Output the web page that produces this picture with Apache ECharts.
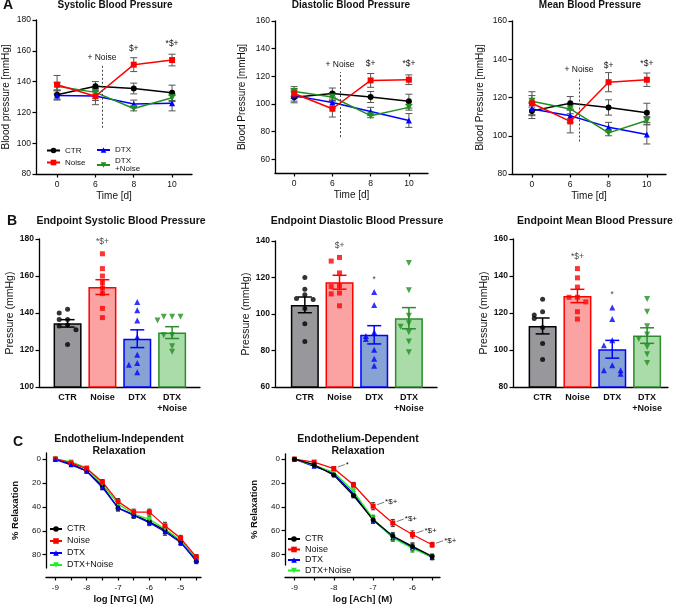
<!DOCTYPE html>
<html>
<head>
<meta charset="utf-8">
<script src="https://cdn.jsdelivr.net/npm/echarts@6/dist/echarts.min.js"></script>
<style>
  html, body { margin: 0; padding: 0; background: #fff; }
  #main { width: 676px; height: 605px; }
</style>
</head>
<body>
<div id="main"></div>
<script>
// ---------- data ----------
const days = ['0', '6', '8', '10'];
const groups = ['CTR', 'Noise', 'DTX', 'DTX+Noise'];
const barLabels = ['CTR', 'Noise', 'DTX', 'DTX\n+Noise'];

// A – blood pressure time course (mean, SEM)
const sysCTR = [131.5, 137, 135.5, 132.7];
const sysNoise = [138, 130.5, 151, 154];
const sysDTX = [131, 130.7, 125.5, 126];
const sysDTXNoise = [137, 133, 122.5, 129.5];
const sysErr = [[3, 3, 3.5, 5], [6, 5.5, 4.5, 3.8], [3, 3, 2.5, 5], [2.5, 2.5, 1.5, 2.5]];

const diaCTR = [104.8, 107.5, 105, 102];
const diaNoise = [107.5, 96.5, 117, 117.5];
const diaDTX = [106, 101, 94.5, 88];
const diaDTXNoise = [109, 105, 91.5, 97.5];
const diaErr = [[4, 4, 4, 5], [3.5, 6, 5, 3.5], [4, 4, 3, 5], [3.5, 3, 1.5, 2]];

const meanCTR = [113, 117, 114.8, 112];
const meanNoise = [117, 107.5, 128, 129.3];
const meanDTX = [114, 110.5, 104.5, 100.7];
const meanDTXNoise = [118, 114, 101.5, 108];
const meanErr = [[4, 3.5, 4, 5], [6, 6, 5, 3.5], [3.5, 3.5, 2.5, 5], [3, 2.5, 1.5, 2]];

const sigA = ['', '', '$+', '*$+'];

// B – endpoint values
const sysBar = [134.4, 154, 126.1, 129.4];
const sysSem = [2, 4, 4.8, 3.2];
const sysPts = [
  [142, 140, 136.5, 136.5, 133.5, 133, 131, 123],
  [172, 164, 160, 156.5, 153.5, 150.5, 142.5, 137.5],
  [146, 141.5, 136, 127, 117.5, 113, 112, 108],
  [138, 138, 138, 136, 128, 128, 122, 119]
];
const sysSig = ['', '*$+', '', ''];

const diaBar = [105, 117.4, 88.6, 97.7];
const diaSem = [4.3, 3.8, 5, 5.8];
const diaPts = [
  [120, 113.5, 110.5, 108.5, 108, 103, 94.6, 85],
  [131, 129, 122.5, 115.5, 115, 111.5, 111, 104.5],
  [112, 105, 90, 88, 86.3, 80.4, 75.5, 71.7],
  [128, 113, 99, 95, 93, 90, 85, 79]
];
const diaSig = ['', '$+', '*', ''];

const meanBar = [113, 129.2, 100.4, 107.8];
const meanSem = [4.3, 3.6, 4.8, 4.2];
const meanPts = [
  [127.4, 120.7, 118.9, 117, 112.2, 103.5, 94.8],
  [144, 139, 134, 128.5, 128.5, 126, 120.7, 116.7],
  [123, 116.7, 105.3, 102.6, 91.7, 89, 89, 87.2],
  [127.6, 120.7, 112.9, 108.4, 106, 101.6, 97.7, 93]
];
const meanSig = ['', '*$+', '*', ''];

// C – concentration-relaxation curves
const logNTG = [-9, -8.5, -8, -7.5, -7, -6.5, -6, -5.5, -5, -4.5];
const ntgCTR = [0, 4, 10, 22.5, 41, 46.5, 52.5, 59.5, 69, 85.5];
const ntgNoise = [0, 3.3, 8, 19.2, 35.6, 44.4, 44.4, 55.9, 66.3, 81.9];
const ntgDTX = [0.5, 4.9, 10.2, 23.8, 40.8, 47.2, 53.2, 60.8, 69.8, 84.6];
const ntgDTXNoise = [0, 2.5, 7.5, 21, 37.5, 46, 50.5, 58.5, 68, 83.5];
const ntgErr = [0.5, 1, 1.5, 2, 2.5, 2.5, 2.5, 3, 2.5, 2];

const logACh = [-9, -8.5, -8, -7.5, -7, -6.5, -6, -5.5];
const achCTR = [0, 4.7, 13.4, 30.5, 50.9, 64.5, 73.2, 81.6];
const achNoise = [0, 2.5, 7.9, 21.5, 39.5, 53.6, 63.2, 71.8];
const achDTX = [0, 6, 12, 29, 51, 65.5, 74, 82.5];
const achDTXNoise = [0, 5, 11, 27, 50, 66, 75, 82];
const achErr = [0.5, 1, 1.5, 2, 3, 3, 3, 2];
const achSig = ['', '', '*', '', '*$+', '*$+', '*$+', '*$+'];

// ---------- styles ----------
const FONT = 'Liberation Sans, Arial, Helvetica, sans-serif';
const colA = ['#000000', '#ff0000', '#0000ff', '#1f8f1f'];
const colC = ['#000000', '#ff0000', '#0000ff', '#22ee22'];
const barFill = ['#98989c', '#fba3a3', '#86a3d4', '#a9dca9'];
const barEdge = ['#000000', '#ff0000', '#0000ff', '#2e8b2e'];
const downTri = 'path://M0,0L2,0L1,1.7Z';
const symbols = ['circle', 'rect', 'triangle', downTri];
const strip = n => n.split('|')[1];

const grids = [
  {left: 36, top: 20, width: 156, height: 154},
  {left: 275, top: 21, width: 153, height: 152},
  {left: 512, top: 21, width: 154, height: 153},
  {left: 39, top: 239, width: 161, height: 148},
  {left: 275, top: 241, width: 162, height: 146},
  {left: 513, top: 239, width: 155, height: 148},
  {left: 46, top: 453, width: 155, height: 117},
  {left: 285, top: 454, width: 155, height: 114}
];

function axis(i, o) {
  const a = {
    type: 'value', gridIndex: i, min: o.min, max: o.max, inverse: !!o.inverse,
    offset: o.offset || 0,
    name: o.name || '', nameLocation: 'middle', nameGap: o.nameGap || 20,
    nameTextStyle: {color: '#111', fontSize: o.nameSize || 10, fontWeight: o.nameBold ? 'bold' : 'normal', fontFamily: FONT},
    axisLine: {show: true, onZero: false, lineStyle: {color: '#000', width: 1.3}},
    axisTick: {show: o.ticks !== false, length: 3.5, lineStyle: {color: '#000', width: 1.2}},
    axisLabel: {color: '#111', fontSize: o.labelSize || 8.5, fontFamily: FONT,
      fontWeight: o.labelBold ? 'bold' : 'normal', margin: o.margin || 5, lineHeight: 11},
    splitLine: {show: false}
  };
  if (o.interval) a.interval = o.interval;
  if (o.tickVals) a.axisTick.customValues = o.tickVals;
  if (o.labelVals) a.axisLabel.customValues = o.labelVals;
  if (o.fmt) a.axisLabel.formatter = o.fmt;
  return a;
}

function errSeries(i, data, colors, cap, lw, z) {
  return {
    type: 'custom', xAxisIndex: i, yAxisIndex: i, silent: true, z: z,
    encode: {x: 0, y: [1, 2]},
    data: data,
    renderItem: (params, api) => {
      const lo = api.coord([api.value(0), api.value(1)]);
      const hi = api.coord([api.value(0), api.value(2)]);
      const c = Array.isArray(colors) ? colors[params.dataIndex] : colors;
      const st = {stroke: c, lineWidth: lw};
      return {type: 'group', children: [
        {type: 'line', shape: {x1: lo[0], y1: lo[1], x2: hi[0], y2: hi[1]}, style: st},
        {type: 'line', shape: {x1: lo[0] - cap, y1: lo[1], x2: lo[0] + cap, y2: lo[1]}, style: st},
        {type: 'line', shape: {x1: hi[0] - cap, y1: hi[1], x2: hi[0] + cap, y2: hi[1]}, style: st}
      ]};
    }
  };
}

// significance text with a short leader line, placed to the upper right of a point
function annoSeries(i, xs, vals, texts) {
  return {
    type: 'custom', xAxisIndex: i, yAxisIndex: i, silent: true, z: 6,
    data: vals.map((v, k) => [xs[k], v]),
    renderItem: (params, api) => {
      const t = texts[params.dataIndex];
      if (!t) return null;
      const p = api.coord([api.value(0), api.value(1)]);
      return {type: 'group', children: [
        {type: 'line', shape: {x1: p[0] + 4, y1: p[1] - 1.5, x2: p[0] + 11, y2: p[1] - 4}, style: {stroke: '#555', lineWidth: 0.8}},
        {type: 'text', x: p[0] + 12, y: p[1] - 4, style: {text: t, fontSize: 8, fontFamily: FONT, fill: '#111',
          align: 'left', verticalAlign: 'middle'}}
      ]};
    }
  };
}

const xAxes = [], yAxes = [], series = [];

// ---------- A: time course ----------
const panelA = [
  {vals: [sysCTR, sysNoise, sysDTX, sysDTXNoise], errs: sysErr, y: [80, 180], yname: 'Blood pressure [mmHg]', xr: [-0.55, 3.52], gap: 25},
  {vals: [diaCTR, diaNoise, diaDTX, diaDTXNoise], errs: diaErr, y: [50, 160], yname: 'Blood Pressure [mmHg]', xr: [-0.5, 3.5], gap: 28},
  {vals: [meanCTR, meanNoise, meanDTX, meanDTXNoise], errs: meanErr, y: [80, 160], yname: 'Blood Pressure [mmHg]', xr: [-0.52, 3.5], gap: 27}
];
// dashed "+ Noise" marker: x position (between day 6 and 8) and vertical extent
const noiseMarkX = [1.17, 1.2, 1.23];
const noiseMarkY = [[110, 151], [76, 123], [97, 130.5]];

panelA.forEach((p, i) => {
  xAxes.push(axis(i, {min: p.xr[0], max: p.xr[1], name: 'Time [d]', nameGap: 17,
    labelVals: [0, 1, 2, 3], tickVals: [0, 1, 2, 3], fmt: v => days[v]}));
  const ticks = [];
  for (let t = 60; t <= p.y[1]; t += 20) if (t >= p.y[0]) ticks.push(t);
  yAxes.push(axis(i, {min: p.y[0], max: p.y[1], name: p.yname, nameGap: p.gap,
    labelVals: ticks, tickVals: ticks}));
  p.vals.forEach((vals, g) => {
    const nm = (i === 0 && g === 3) ? 'DTX\n+Noise' : groups[g];
    const s = {
      name: 'A' + i + '|' + nm, type: 'line', xAxisIndex: i, yAxisIndex: i, z: 3 + (g === 1 ? 1 : 0),
      data: vals.map((v, k) => [k, v]),
      symbol: symbols[g], symbolSize: g === 3 ? 7 : 6,
      itemStyle: {color: colA[g]}, lineStyle: {color: colA[g], width: 1.5}
    };
    if (g === 1) {
      s.label = {show: true, position: 'top', distance: 9, fontSize: 8.5, fontFamily: FONT, color: '#111',
        formatter: q => sigA[q.dataIndex]};
      s.markLine = {
        silent: true, symbol: 'none', animation: false,
        lineStyle: {color: '#444', type: [2, 2], width: 1},
        label: {show: true, position: 'end', formatter: '+ Noise', fontSize: 8.5, fontFamily: FONT, color: '#111', distance: 3},
        data: [[{coord: [noiseMarkX[i], noiseMarkY[i][0]]}, {coord: [noiseMarkX[i], noiseMarkY[i][1]]}]]
      };
    }
    series.push(s);
    series.push(errSeries(i, vals.map((v, k) => [k, v - p.errs[g][k], v + p.errs[g][k]]), '#555', 3.5, 1, 2));
  });
});

// ---------- B: endpoint bars ----------
const panelB = [
  {bar: sysBar, sem: sysSem, pts: sysPts, sig: sysSig, y: [100, 180], xr: [-0.82, 3.8]},
  {bar: diaBar, sem: diaSem, pts: diaPts, sig: diaSig, y: [60, 140], xr: [-0.86, 3.81]},
  {bar: meanBar, sem: meanSem, pts: meanPts, sig: meanSig, y: [80, 160], xr: [-0.85, 3.6]}
];

function swarm(vals, gi) {
  const offs = [0, -0.24, 0.24, -0.42, 0.42];
  return vals.map((v, k) => {
    let n = 0;
    for (let j = 0; j < k; j++) if (Math.abs(vals[j] - v) < 3) n++;
    return [gi + offs[n % offs.length], v];
  });
}

panelB.forEach((p, b) => {
  const i = 3 + b;
  xAxes.push(axis(i, {min: p.xr[0], max: p.xr[1], ticks: false, labelVals: [0, 1, 2, 3],
    fmt: v => barLabels[v], labelBold: true, labelSize: 9, margin: 5}));
  yAxes.push(axis(i, {min: p.y[0], max: p.y[1], interval: 20, name: 'Pressure (mmHg)', nameGap: 23,
    nameSize: 10.5, labelBold: true, labelSize: 8.5}));
  series.push({
    type: 'bar', xAxisIndex: i, yAxisIndex: i, barWidth: 28, z: 2, silent: true,
    data: p.bar.map((v, g) => ({value: [g, v], itemStyle: {color: barFill[g], borderColor: barEdge[g], borderWidth: 1.5}}))
  });
  series.push(errSeries(i, p.bar.map((v, g) => [g, v - p.sem[g], v + p.sem[g]]), barEdge, 7, 1.5, 4));
  p.pts.forEach((vals, g) => {
    const top = Math.max(...vals);
    series.push({
      type: 'scatter', xAxisIndex: i, yAxisIndex: i, z: 5, silent: true,
      symbol: symbols[g], symbolSize: g >= 2 ? 6 : 5,
      itemStyle: {color: colA[g]},
      data: swarm(vals, g).map(d => d[1] === top && p.sig[g]
        ? {value: d, label: {show: true, position: 'top', distance: 5, formatter: p.sig[g], fontSize: 8.5, fontFamily: FONT, color: '#111'}}
        : d)
    });
  });
});

// ---------- C: relaxation curves ----------
const panelC = [
  {x: logNTG, vals: [ntgCTR, ntgNoise, ntgDTX, ntgDTXNoise], err: ntgErr, xr: [-9.3, -4.35], yr: [-5, 91.1],
    xname: 'log [NTG] (M)', off: 9, order: [0, 3, 1, 2]},
  {x: logACh, vals: [achCTR, achNoise, achDTX, achDTXNoise], err: achErr, xr: [-9.24, -5.3], yr: [-4.3, 88.8],
    xname: 'log [ACh] (M)', off: 12, order: [2, 3, 1, 0]}
];

panelC.forEach((p, c) => {
  const i = 6 + c;
  const half = [];
  for (let t = -9; t <= p.xr[1]; t += 0.5) half.push(t);
  const whole = half.filter(t => Number.isInteger(t));
  xAxes.push(axis(i, {min: p.xr[0], max: p.xr[1], offset: p.off, name: p.xname, nameGap: 17,
    nameBold: true, nameSize: 9.5, labelVals: whole, tickVals: half, labelSize: 8}));
  yAxes.push(axis(i, {min: p.yr[0], max: p.yr[1], inverse: true, name: '% Relaxation', nameGap: 26,
    nameBold: true, nameSize: 9.5, labelVals: [0, 20, 40, 60, 80], tickVals: [0, 20, 40, 60, 80], labelSize: 8}));
  p.order.forEach(g => {
    const vals = p.vals[g];
    series.push(errSeries(i, vals.map((v, k) => [p.x[k], v - p.err[k], v + p.err[k]]), g === 3 ? '#1aa01a' : '#333', 2, 1, 2));
    series.push({
      name: 'C' + c + '|' + groups[g], type: 'line', xAxisIndex: i, yAxisIndex: i, z: 3,
      data: vals.map((v, k) => [p.x[k], v]),
      symbol: symbols[g], symbolSize: 5,
      itemStyle: {color: colC[g]}, lineStyle: {color: colC[g], width: 1.3}
    });
  });
});
series.push(annoSeries(7, logACh, achNoise, achSig));

// ---------- text ----------
function txt(x, y, text, size, bold) {
  return {type: 'text', x: x, y: y, silent: true,
    style: {text: text, fontSize: size, fontWeight: bold ? 'bold' : 'normal', fontFamily: FONT, fill: '#111',
      align: 'center', textAlign: 'center', verticalAlign: 'middle', textVerticalAlign: 'middle', lineHeight: 12}};
}
const graphics = [
  txt(8, 5, 'A', 14, true), txt(12, 221, 'B', 14, true), txt(18, 442, 'C', 14, true),
  txt(115, 5, 'Systolic Blood Pressure', 10, true),
  txt(351, 5, 'Diastolic Blood Pressure', 10, true),
  txt(590, 5, 'Mean Blood Pressure', 10, true),
  txt(121, 221, 'Endpoint Systolic Blood Pressure', 10.5, true),
  txt(357, 221, 'Endpoint Diastolic Blood Pressure', 10.5, true),
  txt(595, 221, 'Endpoint Mean Blood Pressure', 10.5, true),
  txt(119, 445, 'Endothelium-Independent\nRelaxation', 10.5, true),
  txt(358, 445, 'Endothelium-Dependent\nRelaxation', 10.5, true)
];

const legendText = {fontSize: 8, fontFamily: FONT, color: '#111', lineHeight: 9};
const chart = echarts.init(document.getElementById('main'), null, {renderer: 'canvas'});
chart.setOption({
  animation: false,
  backgroundColor: '#fff',
  grid: grids,
  xAxis: xAxes,
  yAxis: yAxes,
  legend: [
    {data: ['A0|CTR', 'A0|Noise'], left: 41, top: 141, orient: 'vertical', itemWidth: 13, itemHeight: 7,
      itemGap: 3, formatter: strip, selectedMode: false, textStyle: legendText},
    {data: ['A0|DTX', 'A0|DTX\n+Noise'], left: 91, top: 141, orient: 'vertical', itemWidth: 13, itemHeight: 7,
      itemGap: 3, formatter: strip, selectedMode: false, textStyle: Object.assign({}, legendText, {lineHeight: 8})},
    {data: ['C0|CTR', 'C0|Noise', 'C0|DTX', 'C0|DTX+Noise'], left: 44, top: 519, orient: 'vertical',
      itemWidth: 12, itemHeight: 7, itemGap: 2, formatter: strip, selectedMode: false,
      textStyle: {fontSize: 9, fontFamily: FONT, color: '#111', lineHeight: 10}},
    {data: ['C1|CTR', 'C1|Noise', 'C1|DTX', 'C1|DTX+Noise'], left: 282, top: 529, orient: 'vertical',
      itemWidth: 12, itemHeight: 7, itemGap: 0.5, formatter: strip, selectedMode: false,
      textStyle: {fontSize: 9, fontFamily: FONT, color: '#111', lineHeight: 10}}
  ],
  series: series,
  graphic: graphics
});
</script>
</body>
</html>
